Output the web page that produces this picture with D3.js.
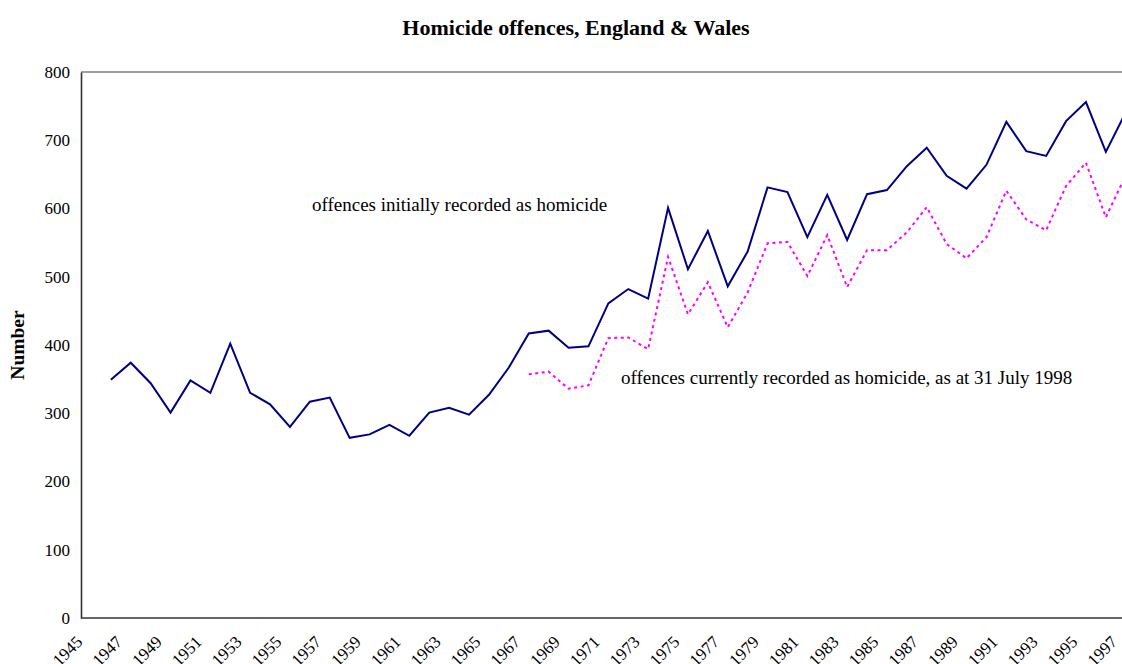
<!DOCTYPE html>
<html>
<head>
<meta charset="utf-8">
<script src="https://cdn.jsdelivr.net/npm/d3@7"></script>
<style>
  html, body { margin: 0; padding: 0; background: #fff; }
  svg { display: block; }
  text { font-family: "Liberation Serif", "Times New Roman", serif; fill: #000; }
</style>
</head>
<body>
<svg id="chart" width="1122" height="664"></svg>
<script>
// ---- data ----
const tickYears = [1945,1947,1949,1951,1953,1955,1957,1959,1961,1963,1965,1967,1969,1971,1973,1975,1977,1979,1981,1983,1985,1987,1989,1991,1993,1995,1997];
const yTicks = [0,100,200,300,400,500,600,700,800];

const initialYears = [1946,1947,1948,1949,1950,1951,1952,1953,1954,1955,1956,1957,1958,1959,1960,1961,1962,1963,1964,1965,1966,1967,1968,1969,1970,1971,1972,1973,1974,1975,1976,1977,1978,1979,1980,1981,1982,1983,1984,1985,1986,1987,1988,1989,1990,1991,1992,1993,1994,1995,1996,1997];
const initialValues = [349,374,344,301,348,330,402,330,313,280,317,323,264,269,283,267,301,308,298,327,367,417,421,396,398,461,482,468,601,511,567,486,537,631,624,558,620,554,621,627,662,689,648,629,664,727,684,677,728,756,683,741];

const currentYears = [1967,1968,1969,1970,1971,1972,1973,1974,1975,1976,1977,1978,1979,1980,1981,1982,1983,1984,1985,1986,1987,1988,1989,1990,1991,1992,1993,1994,1995,1996,1997];
const currentValues = [357,361,336,341,410,411,394,529,445,492,426,477,549,551,501,561,485,539,539,565,602,548,527,558,626,584,568,633,667,587,649];

const titleText = "Homicide offences, England & Wales";
const yTitle = "Number";
const label1 = "offences initially recorded as homicide";
const label2 = "offences currently recorded as homicide, as at 31 July 1998";

// ---- layout ----
const svg = d3.select("#chart");
const plotLeft = 81, plotTop = 72, plotBottom = 618;
const step = 19.9;
const plotRight = plotLeft + 53 * step;

const x = d3.scaleLinear().domain([1945, 1997]).range([plotLeft + step / 2, plotLeft + step / 2 + 52 * step]);
const y = d3.scaleLinear().domain([0, 800]).range([plotBottom, plotTop]);

// plot frame
svg.append("line").attr("x1", plotLeft).attr("x2", plotRight).attr("y1", plotTop).attr("y2", plotTop)
  .attr("stroke", "#808080").attr("stroke-width", 1.3);
svg.append("line").attr("x1", plotRight).attr("x2", plotRight).attr("y1", plotTop).attr("y2", plotBottom)
  .attr("stroke", "#808080").attr("stroke-width", 1.3);

// y axis
const yAxis = d3.axisLeft(y).tickValues(yTicks).tickSize(0).tickPadding(11).tickFormat(d3.format("d"));
const gy = svg.append("g").attr("transform", `translate(${plotLeft},0)`).call(yAxis);
gy.select(".domain").attr("stroke", "#333").attr("stroke-width", 1.6);
gy.selectAll("text").attr("font-size", 17).attr("font-family", "Liberation Serif").attr("fill", "#000");

// x axis
const xAxis = d3.axisBottom(x).tickValues(tickYears).tickSize(0).tickFormat(d3.format("d"));
const gx = svg.append("g").attr("transform", `translate(0,${plotBottom})`).call(xAxis);
gx.select(".domain").attr("d", `M${plotLeft},0H${plotRight}`).attr("stroke", "#333").attr("stroke-width", 1.6);
gx.selectAll("text")
  .attr("font-size", 17).attr("font-family", "Liberation Serif").attr("fill", "#000")
  .attr("text-anchor", "end")
  .attr("y", 0).attr("dy", 0)
  .attr("transform", "translate(-8,25) rotate(-45)");

// lines
const line = d3.line().x(d => x(d[0])).y(d => y(d[1]));
const initialData = initialYears.map((yr, i) => [yr, initialValues[i]]);
const currentData = currentYears.map((yr, i) => [yr, currentValues[i]]);

svg.append("defs").append("clipPath").attr("id", "clip")
  .append("rect").attr("x", plotLeft).attr("y", 0).attr("width", plotRight - plotLeft).attr("height", plotBottom);

const lines = svg.append("g").attr("clip-path", "url(#clip)");
lines.append("path").datum(currentData).attr("d", line)
  .attr("fill", "none").attr("stroke", "#ff00ff").attr("stroke-width", 2)
  .attr("stroke-dasharray", "3,3.5");
lines.append("path").datum(initialData).attr("d", line)
  .attr("fill", "none").attr("stroke", "#000080").attr("stroke-width", 2)
  .attr("stroke-linejoin", "miter");

// titles
svg.append("text").attr("x", 576).attr("y", 35).attr("text-anchor", "middle")
  .attr("font-size", 22).attr("font-weight", "bold").text(titleText);
svg.append("text").attr("transform", "translate(24,345) rotate(-90)").attr("text-anchor", "middle")
  .attr("font-size", 19.5).attr("font-weight", "bold").text(yTitle);

// annotations
svg.append("text").attr("x", 312).attr("y", 211).attr("font-size", 19).text(label1);
svg.append("text").attr("x", 621).attr("y", 384).attr("font-size", 19).text(label2);
</script>
</body>
</html>
